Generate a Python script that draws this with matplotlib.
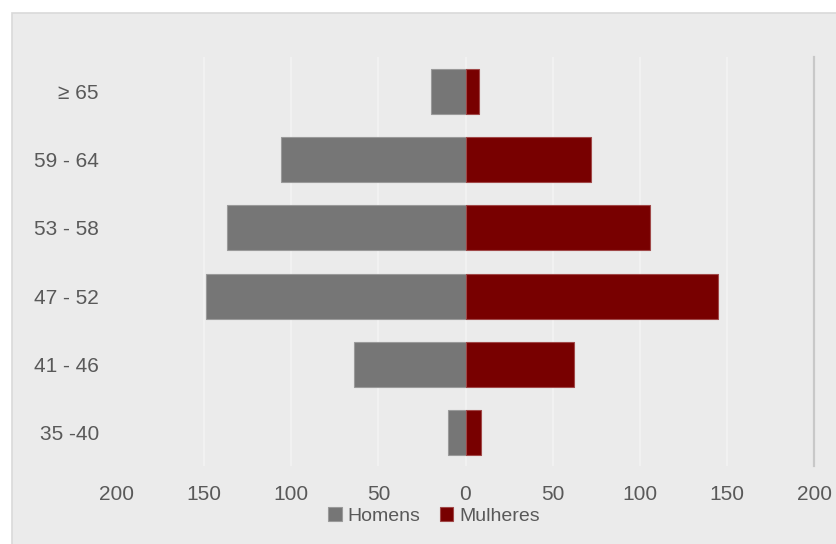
import matplotlib
matplotlib.use("Agg")
import matplotlib.pyplot as plt
from matplotlib.patches import Rectangle
from matplotlib.ticker import FuncFormatter

plt.rcParams['font.family'] = ['Liberation Sans', 'DejaVu Sans']

# dados
faixas = ["35 -40", "41 - 46", "47 - 52", "53 - 58", "59 - 64", "\u2265 65"]
homens = [10, 64, 149, 137, 106, 20]
mulheres = [9, 62, 145, 106, 72, 8]
ticks = [-200, -150, -100, -50, 0, 50, 100, 150, 200]

cinza = "#767676"
vermelho = "#780000"
fundo = "#ebebeb"
texto = "#595959"

fig = plt.figure(figsize=(8.36, 5.44), dpi=100, facecolor="white")
# moldura do gráfico
fig.patches.append(Rectangle((11.5 / 836, -0.01), 1.0, 1 - 12.5 / 544 + 0.01,
                             transform=fig.transFigure, facecolor=fundo,
                             edgecolor="#d9d9d9", linewidth=1.2, zorder=-5))

ax = fig.add_axes([117 / 836, 0.1425, (814 - 117) / 836, 0.752])
ax.set_facecolor(fundo)

y = list(range(len(faixas)))
ax.barh(y, [-h for h in homens], height=0.66, color=cinza,
        edgecolor="#9a9a9a", linewidth=0.8, label="Homens", zorder=3)
ax.barh(y, mulheres, height=0.66, color=vermelho,
        edgecolor="#a04848", linewidth=0.8, label="Mulheres", zorder=3)

ax.set_xlim(-200, 200)
ax.set_ylim(-0.5, len(faixas) - 0.5)
ax.set_xticks(ticks)
ax.xaxis.set_major_formatter(FuncFormatter(lambda v, p: "%d" % abs(v)))
ax.set_yticks(y)
ax.set_yticklabels(faixas)

for t in ticks[1:-1]:
    ax.axvline(t, color="#f1f1f1", linewidth=1.6, zorder=1)

for s in ["top", "left", "bottom"]:
    ax.spines[s].set_visible(False)
ax.spines["right"].set_color("#c8c8c8")
ax.spines["right"].set_linewidth(1.6)

ax.tick_params(axis="both", length=0, labelsize=15, labelcolor=texto)
ax.tick_params(axis="x", pad=13)
ax.tick_params(axis="y", pad=13)

leg = fig.legend(loc="center", bbox_to_anchor=(0.519, 0.052), ncol=2,
                 frameon=False, fontsize=14, handlelength=0.7,
                 handleheight=0.7, handletextpad=0.3, columnspacing=1.0,
                 labelcolor=texto)

fig.savefig("out.png", dpi=100, facecolor=fig.get_facecolor())
